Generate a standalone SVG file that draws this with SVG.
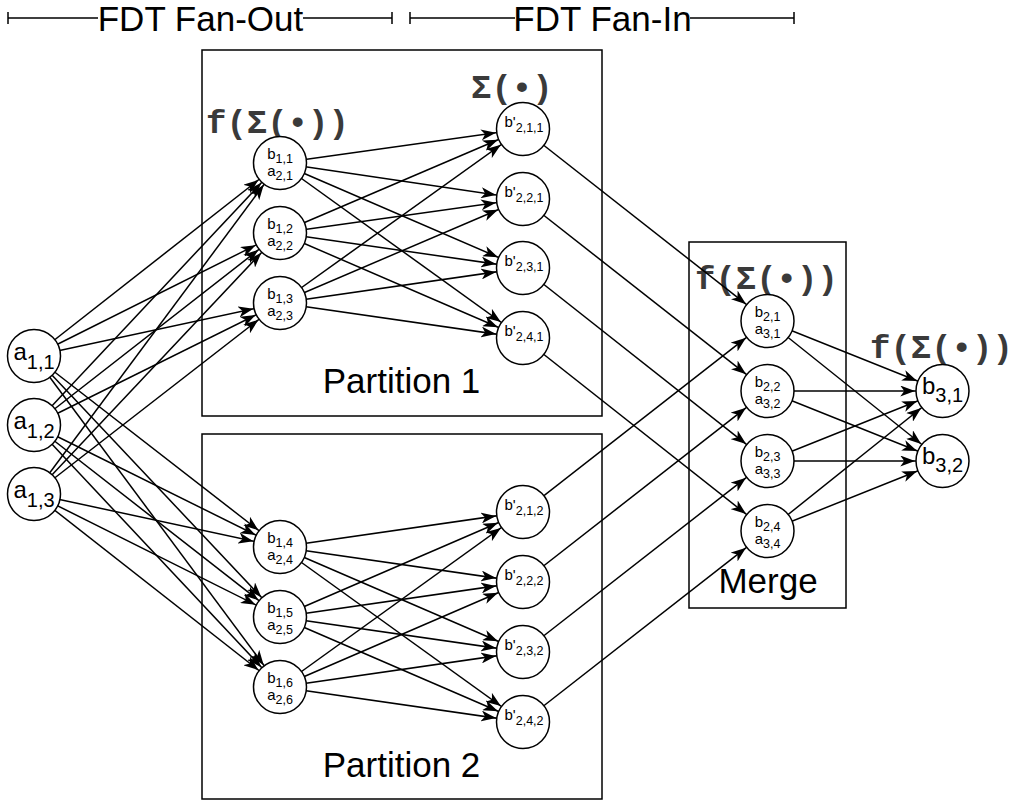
<svg xmlns="http://www.w3.org/2000/svg" width="1011" height="803" viewBox="0 0 1011 803">
  <defs>
    <!-- classic arrowhead; tip sits on the outer edge of a r=26.5 circle when the line ends at its centre -->
    <marker id="arr" markerUnits="userSpaceOnUse" markerWidth="15" markerHeight="11" refX="42.25" refY="5.5" orient="auto">
      <path d="M0,0 L15,5.5 L0,11 L4,5.5 Z" fill="#000"/>
    </marker>
    <style>
      .box{fill:none;stroke:#000;stroke-width:1.5}
      .hdr{stroke:#000;stroke-width:1.5;fill:none}
      .e{stroke:#000;stroke-width:1.5;marker-end:url(#arr)}
      .n circle{fill:#fff;stroke:#000;stroke-width:1.5}
      .t{font-family:"Liberation Sans",Arial,sans-serif;fill:#000}
      .big{font-size:24px}
      .bs{font-size:20px}
      .sm{font-size:15px}
      .ss{font-size:12.5px}
      .title{font-family:"Liberation Sans",Arial,sans-serif;font-size:35px;fill:#000}
      .fn{font-family:"Liberation Mono","Courier New",monospace;font-weight:bold;font-size:34px;fill:#3a3a3a}
    </style>
  </defs>

  <rect width="1011" height="803" fill="#fff"/>

  <!-- stage headers -->
  <g id="hdr-fanout">
    <path class="hdr" d="M8,18 H98 M303,18 H392 M8,12 V24 M392,12 V24"/>
    <text class="title" x="200.5" y="30.5" text-anchor="middle">FDT Fan-Out</text>
  </g>
  <g id="hdr-fanin">
    <path class="hdr" d="M410,18 H515 M690,18 H794 M410,12 V24 M794,12 V24"/>
    <text class="title" x="602.5" y="30.5" text-anchor="middle">FDT Fan-In</text>
  </g>

  <!-- containers -->
  <g id="partition-1">
    <rect class="box" x="202" y="50" width="400" height="366"/>
    <text class="title" x="401.5" y="392.5" text-anchor="middle">Partition 1</text>
  </g>
  <g id="partition-2">
    <rect class="box" x="202" y="434" width="400" height="365"/>
    <text class="title" x="401.5" y="776.5" text-anchor="middle">Partition 2</text>
  </g>
  <g id="merge">
    <rect class="box" x="689" y="242" width="157" height="366"/>
    <text class="title" x="768" y="593" text-anchor="middle">Merge</text>
  </g>

  <!-- function labels -->
  <g id="labels">
    <text class="fn" x="206" y="133">f(Σ(•))</text>
    <text class="fn" x="471" y="98">Σ(•)</text>
    <text class="fn" x="695" y="289">f(Σ(•))</text>
    <text class="fn" x="870" y="358">f(Σ(•))</text>
  </g>

  <!-- connectors (centre to centre, covered by node fills) -->
  <g id="connectors">
    <!-- inputs to first layer -->
    <line class="e" x1="34" y1="356" x2="280" y2="163"/>
    <line class="e" x1="34" y1="356" x2="280" y2="233"/>
    <line class="e" x1="34" y1="356" x2="280" y2="303"/>
    <line class="e" x1="34" y1="356" x2="280" y2="547"/>
    <line class="e" x1="34" y1="356" x2="280" y2="617"/>
    <line class="e" x1="34" y1="356" x2="280" y2="687"/>
    <line class="e" x1="34" y1="425" x2="280" y2="163"/>
    <line class="e" x1="34" y1="425" x2="280" y2="233"/>
    <line class="e" x1="34" y1="425" x2="280" y2="303"/>
    <line class="e" x1="34" y1="425" x2="280" y2="547"/>
    <line class="e" x1="34" y1="425" x2="280" y2="617"/>
    <line class="e" x1="34" y1="425" x2="280" y2="687"/>
    <line class="e" x1="34" y1="494" x2="280" y2="163"/>
    <line class="e" x1="34" y1="494" x2="280" y2="233"/>
    <line class="e" x1="34" y1="494" x2="280" y2="303"/>
    <line class="e" x1="34" y1="494" x2="280" y2="547"/>
    <line class="e" x1="34" y1="494" x2="280" y2="617"/>
    <line class="e" x1="34" y1="494" x2="280" y2="687"/>
    <!-- partition 1 -->
    <line class="e" x1="280" y1="163" x2="523" y2="129"/>
    <line class="e" x1="280" y1="163" x2="523" y2="199"/>
    <line class="e" x1="280" y1="163" x2="523" y2="268"/>
    <line class="e" x1="280" y1="163" x2="523" y2="338"/>
    <line class="e" x1="280" y1="233" x2="523" y2="129"/>
    <line class="e" x1="280" y1="233" x2="523" y2="199"/>
    <line class="e" x1="280" y1="233" x2="523" y2="268"/>
    <line class="e" x1="280" y1="233" x2="523" y2="338"/>
    <line class="e" x1="280" y1="303" x2="523" y2="129"/>
    <line class="e" x1="280" y1="303" x2="523" y2="199"/>
    <line class="e" x1="280" y1="303" x2="523" y2="268"/>
    <line class="e" x1="280" y1="303" x2="523" y2="338"/>
    <!-- partition 2 -->
    <line class="e" x1="280" y1="547" x2="523" y2="512"/>
    <line class="e" x1="280" y1="547" x2="523" y2="582"/>
    <line class="e" x1="280" y1="547" x2="523" y2="652"/>
    <line class="e" x1="280" y1="547" x2="523" y2="722"/>
    <line class="e" x1="280" y1="617" x2="523" y2="512"/>
    <line class="e" x1="280" y1="617" x2="523" y2="582"/>
    <line class="e" x1="280" y1="617" x2="523" y2="652"/>
    <line class="e" x1="280" y1="617" x2="523" y2="722"/>
    <line class="e" x1="280" y1="687" x2="523" y2="512"/>
    <line class="e" x1="280" y1="687" x2="523" y2="582"/>
    <line class="e" x1="280" y1="687" x2="523" y2="652"/>
    <line class="e" x1="280" y1="687" x2="523" y2="722"/>
    <!-- partial sums into merge -->
    <line class="e" x1="523" y1="129" x2="767.5" y2="321"/>
    <line class="e" x1="523" y1="199" x2="767.5" y2="391"/>
    <line class="e" x1="523" y1="268" x2="767.5" y2="461"/>
    <line class="e" x1="523" y1="338" x2="767.5" y2="531"/>
    <line class="e" x1="523" y1="512" x2="767.5" y2="321"/>
    <line class="e" x1="523" y1="582" x2="767.5" y2="391"/>
    <line class="e" x1="523" y1="652" x2="767.5" y2="461"/>
    <line class="e" x1="523" y1="722" x2="767.5" y2="531"/>
    <!-- merge to output layer -->
    <line class="e" x1="767.5" y1="321" x2="942.5" y2="391"/>
    <line class="e" x1="767.5" y1="321" x2="942.5" y2="461"/>
    <line class="e" x1="767.5" y1="391" x2="942.5" y2="391"/>
    <line class="e" x1="767.5" y1="391" x2="942.5" y2="461"/>
    <line class="e" x1="767.5" y1="461" x2="942.5" y2="391"/>
    <line class="e" x1="767.5" y1="461" x2="942.5" y2="461"/>
    <line class="e" x1="767.5" y1="531" x2="942.5" y2="391"/>
    <line class="e" x1="767.5" y1="531" x2="942.5" y2="461"/>
  </g>

  <!-- input nodes -->
  <g id="a11" class="n"><circle cx="34" cy="356" r="26.5"/><text class="t big" x="34" y="360" text-anchor="middle">a<tspan class="bs" dy="9">1,1</tspan></text></g>
  <g id="a12" class="n"><circle cx="34" cy="425" r="26.5"/><text class="t big" x="34" y="429" text-anchor="middle">a<tspan class="bs" dy="9">1,2</tspan></text></g>
  <g id="a13" class="n"><circle cx="34" cy="494" r="26.5"/><text class="t big" x="34" y="498" text-anchor="middle">a<tspan class="bs" dy="9">1,3</tspan></text></g>

  <!-- first layer, partition 1 -->
  <g id="b11" class="n"><circle cx="280" cy="163" r="26.5"/>
    <text class="t sm" x="280" y="159" text-anchor="middle">b<tspan class="ss" dy="4">1,1</tspan></text>
    <text class="t sm" x="280" y="175.5" text-anchor="middle">a<tspan class="ss" dy="4">2,1</tspan></text></g>
  <g id="b12" class="n"><circle cx="280" cy="233" r="26.5"/>
    <text class="t sm" x="280" y="229" text-anchor="middle">b<tspan class="ss" dy="4">1,2</tspan></text>
    <text class="t sm" x="280" y="245.5" text-anchor="middle">a<tspan class="ss" dy="4">2,2</tspan></text></g>
  <g id="b13" class="n"><circle cx="280" cy="303" r="26.5"/>
    <text class="t sm" x="280" y="299" text-anchor="middle">b<tspan class="ss" dy="4">1,3</tspan></text>
    <text class="t sm" x="280" y="315.5" text-anchor="middle">a<tspan class="ss" dy="4">2,3</tspan></text></g>

  <!-- first layer, partition 2 -->
  <g id="b14" class="n"><circle cx="280" cy="547" r="26.5"/>
    <text class="t sm" x="280" y="543" text-anchor="middle">b<tspan class="ss" dy="4">1,4</tspan></text>
    <text class="t sm" x="280" y="559.5" text-anchor="middle">a<tspan class="ss" dy="4">2,4</tspan></text></g>
  <g id="b15" class="n"><circle cx="280" cy="617" r="26.5"/>
    <text class="t sm" x="280" y="613" text-anchor="middle">b<tspan class="ss" dy="4">1,5</tspan></text>
    <text class="t sm" x="280" y="629.5" text-anchor="middle">a<tspan class="ss" dy="4">2,5</tspan></text></g>
  <g id="b16" class="n"><circle cx="280" cy="687" r="26.5"/>
    <text class="t sm" x="280" y="683" text-anchor="middle">b<tspan class="ss" dy="4">1,6</tspan></text>
    <text class="t sm" x="280" y="699.5" text-anchor="middle">a<tspan class="ss" dy="4">2,6</tspan></text></g>

  <!-- partial sums, partition 1 -->
  <g id="p211" class="n"><circle cx="523" cy="129" r="26.5"/><text class="t sm" x="524" y="127" text-anchor="middle">b'<tspan class="ss" dy="5">2,1,1</tspan></text></g>
  <g id="p221" class="n"><circle cx="523" cy="199" r="26.5"/><text class="t sm" x="524" y="197" text-anchor="middle">b'<tspan class="ss" dy="5">2,2,1</tspan></text></g>
  <g id="p231" class="n"><circle cx="523" cy="268" r="26.5"/><text class="t sm" x="524" y="266" text-anchor="middle">b'<tspan class="ss" dy="5">2,3,1</tspan></text></g>
  <g id="p241" class="n"><circle cx="523" cy="338" r="26.5"/><text class="t sm" x="524" y="336" text-anchor="middle">b'<tspan class="ss" dy="5">2,4,1</tspan></text></g>

  <!-- partial sums, partition 2 -->
  <g id="p212" class="n"><circle cx="523" cy="512" r="26.5"/><text class="t sm" x="524" y="510" text-anchor="middle">b'<tspan class="ss" dy="5">2,1,2</tspan></text></g>
  <g id="p222" class="n"><circle cx="523" cy="582" r="26.5"/><text class="t sm" x="524" y="580" text-anchor="middle">b'<tspan class="ss" dy="5">2,2,2</tspan></text></g>
  <g id="p232" class="n"><circle cx="523" cy="652" r="26.5"/><text class="t sm" x="524" y="650" text-anchor="middle">b'<tspan class="ss" dy="5">2,3,2</tspan></text></g>
  <g id="p242" class="n"><circle cx="523" cy="722" r="26.5"/><text class="t sm" x="524" y="720" text-anchor="middle">b'<tspan class="ss" dy="5">2,4,2</tspan></text></g>

  <!-- merged second layer -->
  <g id="b21" class="n"><circle cx="767.5" cy="321" r="26.5"/>
    <text class="t sm" x="767.5" y="317" text-anchor="middle">b<tspan class="ss" dy="4">2,1</tspan></text>
    <text class="t sm" x="767.5" y="333.5" text-anchor="middle">a<tspan class="ss" dy="4">3,1</tspan></text></g>
  <g id="b22" class="n"><circle cx="767.5" cy="391" r="26.5"/>
    <text class="t sm" x="767.5" y="387" text-anchor="middle">b<tspan class="ss" dy="4">2,2</tspan></text>
    <text class="t sm" x="767.5" y="403.5" text-anchor="middle">a<tspan class="ss" dy="4">3,2</tspan></text></g>
  <g id="b23" class="n"><circle cx="767.5" cy="461" r="26.5"/>
    <text class="t sm" x="767.5" y="457" text-anchor="middle">b<tspan class="ss" dy="4">2,3</tspan></text>
    <text class="t sm" x="767.5" y="473.5" text-anchor="middle">a<tspan class="ss" dy="4">3,3</tspan></text></g>
  <g id="b24" class="n"><circle cx="767.5" cy="531" r="26.5"/>
    <text class="t sm" x="767.5" y="527" text-anchor="middle">b<tspan class="ss" dy="4">2,4</tspan></text>
    <text class="t sm" x="767.5" y="543.5" text-anchor="middle">a<tspan class="ss" dy="4">3,4</tspan></text></g>

  <!-- output layer -->
  <g id="b31" class="n"><circle cx="942.5" cy="391" r="26.5"/><text class="t big" x="942.5" y="394" text-anchor="middle">b<tspan class="bs" dy="8">3,1</tspan></text></g>
  <g id="b32" class="n"><circle cx="942.5" cy="461" r="26.5"/><text class="t big" x="942.5" y="464" text-anchor="middle">b<tspan class="bs" dy="8">3,2</tspan></text></g>
</svg>
